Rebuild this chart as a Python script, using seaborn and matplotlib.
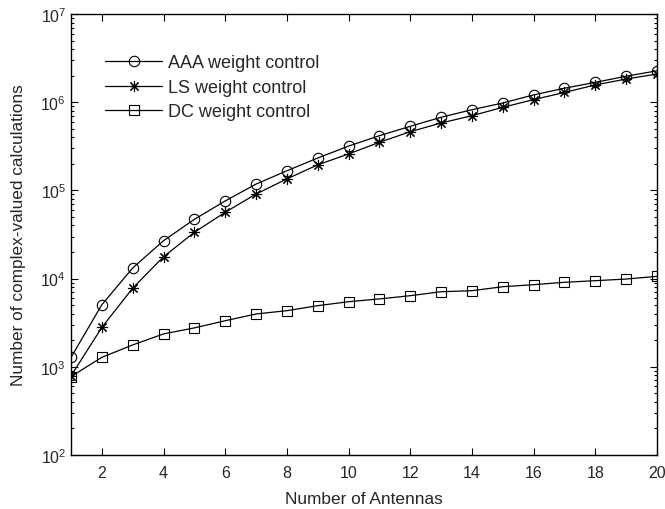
import numpy as np
import pandas as pd
import seaborn as sns
import matplotlib.pyplot as plt
from matplotlib.lines import Line2D
from matplotlib.ticker import LogLocator

# Data
antennas = list(range(1, 21))
aaa_calc = [1280, 5060, 13200, 26900, 47000, 75900, 118000, 167000, 233000, 318000,
            417000, 533000, 675000, 822000, 980000, 1210000, 1440000, 1680000, 1970000, 2270000]
ls_calc = [790, 2800, 7800, 17700, 33500, 56500, 91000, 135000, 195000, 259000,
           351000, 463000, 581000, 703000, 875000, 1070000, 1290000, 1570000, 1830000, 2090000]
dc_calc = [775, 1280, 1770, 2360, 2760, 3330, 3970, 4330, 4930, 5470,
           5880, 6400, 7100, 7290, 8090, 8530, 9080, 9470, 9880, 10600]
labels = ['AAA weight control', 'LS weight control', 'DC weight control']

df = pd.DataFrame({
    'Antennas': antennas * 3,
    'Calcs': aaa_calc + ls_calc + dc_calc,
    'Method': [labels[0]] * 20 + [labels[1]] * 20 + [labels[2]] * 20,
})

sns.set_style("ticks")
plt.rcParams['font.family'] = ['Liberation Sans', 'DejaVu Sans']
plt.rcParams['mathtext.fontset'] = 'custom'
plt.rcParams['mathtext.rm'] = 'Liberation Sans'
plt.rcParams['mathtext.it'] = 'Liberation Sans'

fig = plt.figure(figsize=(6.65, 5.1), dpi=100)
ax = fig.add_axes([0.1068, 0.1059, 0.8812, 0.8647])

star = (8, 2, 0)
markers = {labels[0]: 'o', labels[1]: star, labels[2]: 's'}
sizes = {labels[0]: 7.5, labels[1]: 8, labels[2]: 7.5}

for lab in labels:
    sub = df[df['Method'] == lab]
    sns.lineplot(data=sub, x='Antennas', y='Calcs', ax=ax, color='black',
                 marker=markers[lab], markersize=sizes[lab], markerfacecolor='none',
                 markeredgecolor='black', markeredgewidth=0.8, linewidth=0.9,
                 label=lab, legend=False)

ax.set_yscale('log')
ax.set_xlim(1, 20)
ax.set_ylim(1e2, 1e7)
ax.set_xticks(range(2, 21, 2))
ax.yaxis.set_major_locator(LogLocator(base=10, numticks=10))
ax.yaxis.set_minor_locator(LogLocator(base=10, subs=np.arange(2, 10), numticks=10))
ax.tick_params(which='both', direction='in', top=True, right=True, labelsize=11.5,
               width=0.8, color='black')
ax.tick_params(which='major', length=5)
ax.tick_params(axis='x', which='major', pad=7)
ax.tick_params(which='minor', length=2.5)
ax.minorticks_on()
ax.xaxis.set_minor_locator(plt.NullLocator())
for s in ax.spines.values():
    s.set_linewidth(1.0)
    s.set_color('black')

ax.set_xlabel('Number of Antennas', fontsize=12.4, labelpad=8)
ax.set_ylabel('Number of complex-valued calculations', fontsize=12.4, labelpad=10)

handles = [Line2D([], [], color='black', linewidth=0.9, marker=markers[l], markersize=sizes[l],
                  markerfacecolor='none', markeredgecolor='black', markeredgewidth=0.8)
           for l in labels]
ax.legend(handles, labels, loc='upper left', bbox_to_anchor=(0.045, 0.925), frameon=False,
          fontsize=13, handlelength=3.2, handletextpad=0.3, labelspacing=0.42,
          borderaxespad=0.0)

fig.savefig('out.png', dpi=100, facecolor='white')
